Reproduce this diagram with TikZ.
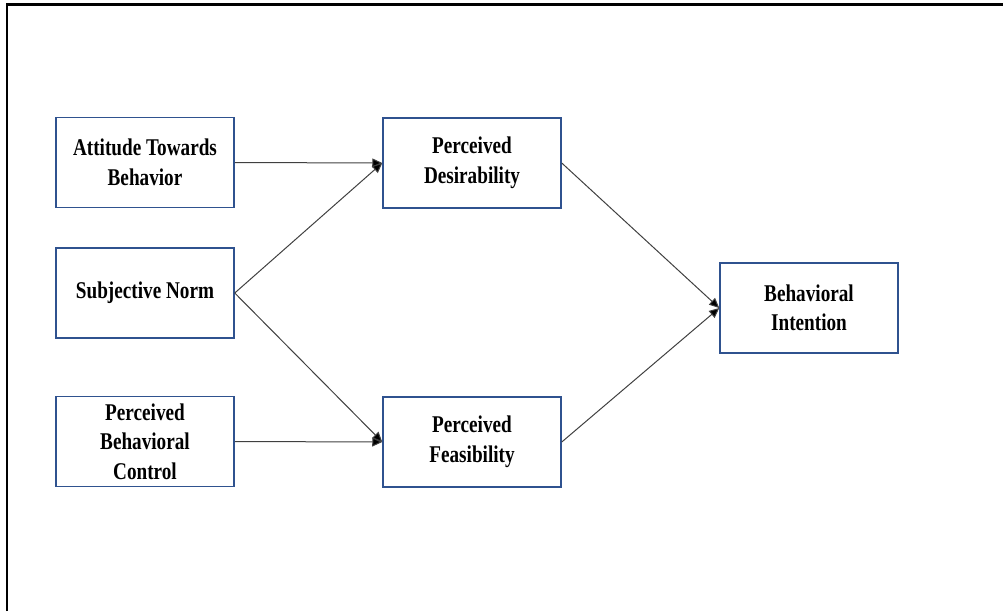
\documentclass[tikz,border=0pt]{standalone}
\usepackage{fontspec}
\setmainfont{Liberation Serif}[FakeStretch=0.8]
\usetikzlibrary{arrows.meta}
\definecolor{boxblue}{HTML}{2F528F}
\definecolor{linegray}{HTML}{404040}
\begin{document}
\begin{tikzpicture}[x=1pt,y=-1pt,
  cbox/.style={draw=boxblue, line width=1.5pt, minimum width=178pt, minimum height=90pt,
    inner sep=0pt, align=center, font=\fontsize{24}{29.5}\selectfont\bfseries},
  conn/.style={draw=linegray, line width=1pt, -{Triangle[length=10pt,width=9pt,fill=black]}}]
\useasboundingbox (0,0) rectangle (1003,611);
\draw[line width=2.4pt] (7,611) -- (7,4.5) -- (1003,4.5);
\node[cbox] (atb) at (145,162.5) {Attitude Towards\\Behavior};
\node[cbox] (sn) at (145,293) {Subjective Norm};
\node[cbox] (pbc) at (145,441.5) {Perceived\\Behavioral\\Control};
\node[cbox] (pd) at (472,163) {Perceived\\Desirability};
\node[cbox] (pf) at (472,442) {Perceived\\Feasibility};
\node[cbox] (bi) at (809,308) {Behavioral\\Intention};
\draw[conn] (atb.east) -- (pd.west);
\draw[conn] (sn.east) -- (pd.west);
\draw[conn] (sn.east) -- (pf.west);
\draw[conn] (pbc.east) -- (pf.west);
\draw[conn] (pd.east) -- (bi.west);
\draw[conn] (pf.east) -- (bi.west);
\end{tikzpicture}
\end{document}
